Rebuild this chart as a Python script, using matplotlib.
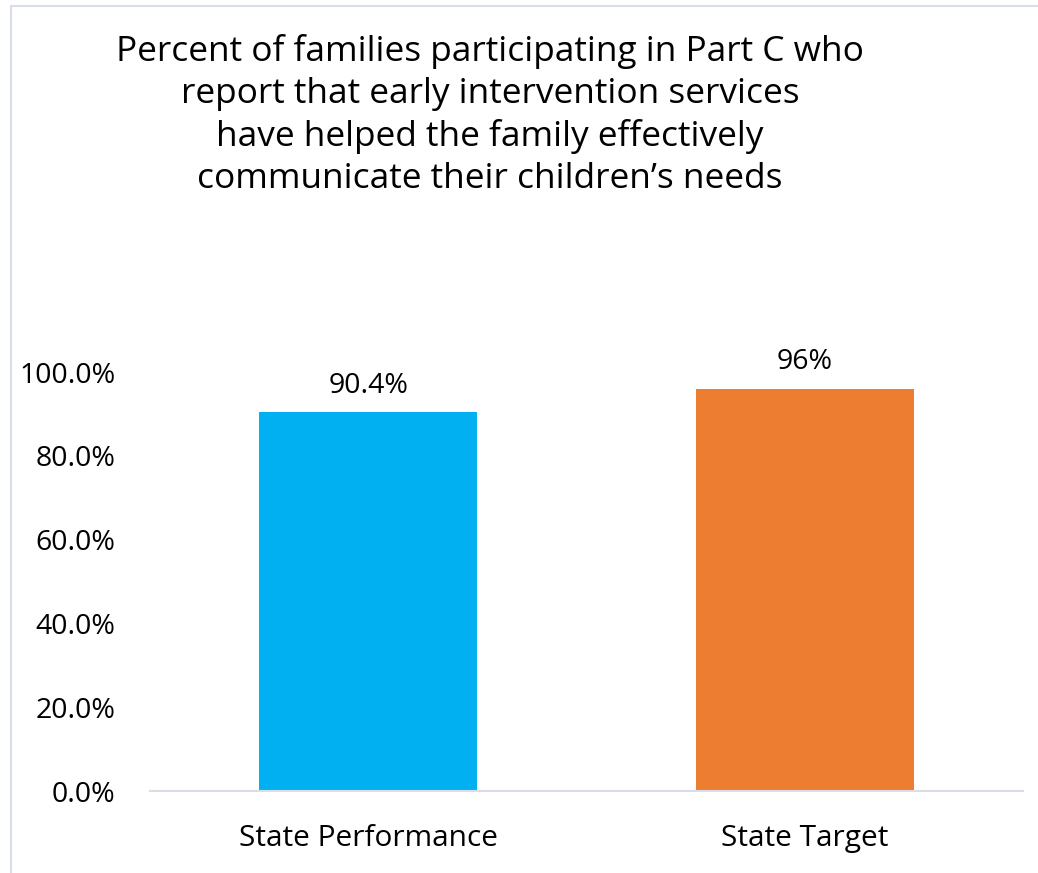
import matplotlib
matplotlib.use("Agg")
import matplotlib.pyplot as plt
from matplotlib.patches import Rectangle
from matplotlib.ticker import PercentFormatter

categories = ["State Performance", "State Target"]
values = [90.4, 96.0]
value_labels = ["90.4%", "96%"]
colors = ["#00B0F0", "#ED7D31"]
title = ("Percent of families participating in Part C who\n"
         "report that early intervention services\n"
         "have helped the family effectively\n"
         "communicate their children\u2019s needs")

plt.rcParams['font.family'] = ['Open Sans', 'DejaVu Sans']

fig = plt.figure(figsize=(10.38, 8.73), dpi=100)
ax = fig.add_axes([150 / 1038, 1 - 791 / 873, 873 / 1038, 419 / 873])

x = list(range(len(categories)))
ax.bar(x, values, width=0.5, color=colors)
for xi, v, lab in zip(x, values, value_labels):
    ax.text(xi, v + 3.0, lab, ha="center", va="bottom", fontsize=20.5, color="#000000")

ax.set_xlim(-0.5, 1.5)
ax.set_ylim(0, 100)
ax.set_yticks([0, 20, 40, 60, 80, 100])
ax.yaxis.set_major_formatter(PercentFormatter(decimals=1))
ax.set_xticks(x)
ax.set_xticklabels(categories)
ax.tick_params(axis="both", length=0, colors="#000000")
ax.tick_params(axis="y", pad=25, labelsize=20.5)
ax.tick_params(axis="x", pad=24, labelsize=21.5)
for s in ["top", "right", "left"]:
    ax.spines[s].set_visible(False)
ax.spines["bottom"].set_color("#d9dde6")
ax.spines["bottom"].set_linewidth(1.5)

fig.text(490 / 1038, 1 - 115 / 873, title, ha="center", va="center", fontsize=25.4,
         linespacing=1.31, color="#000000")

fig.patches.append(Rectangle((11 / 1038, -0.1), 1.2, 1.1 - 6 / 873,
                             transform=fig.transFigure, fill=False,
                             edgecolor="#d9dfe9", linewidth=1.5))

fig.savefig("out.png", dpi=100)
